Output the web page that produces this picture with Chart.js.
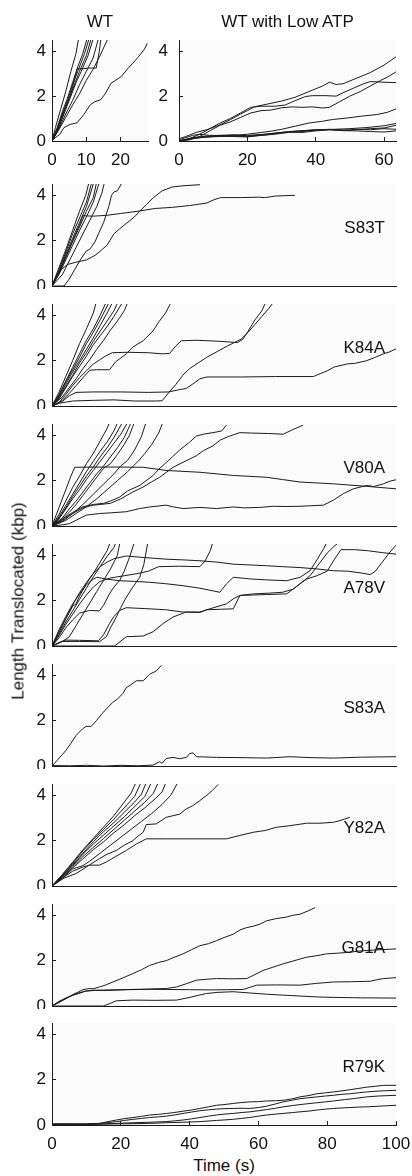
<!DOCTYPE html>
<html>
<head>
<meta charset="utf-8">
<script src="https://cdn.jsdelivr.net/npm/chart.js@4.4.1/dist/chart.umd.min.js"></script>
<style>
  html, body { margin: 0; padding: 0; background: #fff; }
  #fig { position: relative; width: 412px; height: 1176px; overflow: hidden;
         font-family: "Liberation Sans", Arial, Helvetica, sans-serif; color: #111; }
  #fig canvas { position: absolute; }
  .lbl { position: absolute; white-space: nowrap; line-height: 1; font-size: 17px; z-index: 5; }
</style>
</head>
<body>
<div id="fig"></div>
<script>
// ---- labels and ticks ----
const topTitles = ['WT', 'WT with Low ATP'];
const panelNames = ['S83T', 'K84A', 'V80A', 'A78V', 'S83A', 'Y82A', 'G81A', 'R79K'];
const yAxisTitle = 'Length Translocated (kbp)';
const xAxisTitle = 'Time (s)';
const yTickValues = [0, 2, 4];
const wtTickValues = [0, 10, 20];
const lowAtpTickValues = [0, 20, 40, 60];
const timeTickValues = [0, 20, 40, 60, 80, 100];

// ---- translocation traces: [time (s), length (kbp)] ----
const wtTraces = [
  [[0,0],[1,0.6],[2.5,1.4],[4,2.2],[5.5,3.1],[7,3.9],[7.8,4.6]],
  [[0,0],[1.5,0.6],[3,1.3],[4.5,1.9],[6,2.6],[7.5,3.3],[9,3.9],[10.3,4.6]],
  [[0,0],[1.5,0.5],[3,1.2],[4.5,1.8],[6,2.5],[7.5,3.1],[9.5,3.9],[10.9,4.6]],
  [[0,0],[2,0.7],[3.5,1.3],[5,1.9],[6.5,2.5],[8,3.1],[10,3.8],[11.5,4.6]],
  [[0,0],[2,0.6],[4,1.4],[5.5,2.0],[7,2.6],[8.5,3.1],[10.5,3.8],[12.1,4.6]],
  [[0,0],[1,0.3],[2.5,0.9],[4,1.5],[5.5,2.1],[7.4,3.22],[9,3.22],[11,3.25],[12.9,3.25],[13.8,4.0],[14.3,4.6]],
  [[0,0],[2,0.55],[4,1.2],[6,1.8],[8,2.5],[10,3.1],[12,3.7],[13.6,4.6]],
  [[0,0],[2,0.5],[4,1.05],[6,1.6],[8,2.1],[10,2.7],[12,3.2],[14,3.8],[16.4,4.6]],
  [[0,0],[1,0.15],[2.3,0.3],[3.5,0.6],[5.3,0.74],[7.3,0.81],[9.3,1.18],[11.2,1.62],[12.5,1.75],[14.2,1.84],[15.5,2.1],[17.2,2.57],[18.5,2.7],[20.2,2.87],[22.2,3.24],[23.5,3.45],[25.2,3.75],[27,4.1],[27.8,4.35]]
];
const lowAtpTraces = [
  [[0,0.1],[2,0.2],[5,0.38],[8,0.5],[10,0.6],[12,0.72],[15,0.95],[18,1.2],[20,1.35],[22,1.52],[26,1.65],[30,1.78],[34,1.95],[38,2.2],[42,2.45],[44,2.62],[46,2.52],[48,2.55],[52,2.8],[56,3.05],[60,3.38],[63.5,3.75]],
  [[0,0],[3,0.1],[6,0.3],[9,0.55],[12,0.8],[15,1.0],[18,1.25],[21,1.5],[24,1.55],[28,1.55],[31,1.6],[34,1.8],[37,1.98],[39,2.02],[43,2.02],[46,2.0],[48,2.15],[51,2.35],[54,2.55],[56,2.65],[60,2.62],[63.5,2.6]],
  [[0,0],[3,0.05],[6,0.2],[9,0.45],[12,0.7],[15,0.85],[18,1.05],[21,1.25],[24,1.35],[27,1.38],[30,1.48],[33,1.52],[36,1.5],[39,1.52],[42,1.47],[44,1.5],[47,1.75],[50,2.0],[53,2.2],[56,2.45],[59,2.7],[61,2.85],[63.5,3.08]],
  [[0,0],[4,0.1],[8,0.18],[12,0.22],[16,0.25],[20,0.3],[24,0.38],[27,0.44],[30,0.52],[34,0.66],[38,0.8],[42,0.88],[45,0.96],[49,1.02],[53,1.1],[58,1.18],[61,1.28],[63.5,1.43]],
  [[0,0],[5,0.15],[10,0.2],[15,0.22],[20,0.25],[25,0.3],[30,0.38],[35,0.45],[40,0.5],[45,0.52],[50,0.55],[55,0.6],[60,0.68],[63.5,0.78]],
  [[0,0],[4,0.12],[8,0.18],[12,0.2],[16,0.22],[20,0.2],[24,0.28],[28,0.35],[32,0.42],[36,0.45],[40,0.5],[44,0.52],[48,0.48],[52,0.52],[56,0.5],[60,0.55],[63.5,0.52]],
  [[0,0],[4,0.15],[8,0.22],[12,0.25],[16,0.28],[20,0.22],[24,0.25],[28,0.3],[32,0.38],[36,0.42],[40,0.48],[44,0.5],[48,0.46],[52,0.45],[56,0.42],[60,0.4],[63.5,0.45]],
  [[0,0.05],[2,0.15],[4,0.25],[6,0.3],[9,0.25],[12,0.25],[16,0.2],[20,0.18],[24,0.25],[28,0.32],[32,0.4],[36,0.38],[40,0.45],[44,0.5],[50,0.48],[56,0.55],[60,0.58],[63.5,0.7]]
];
const s83tTraces = [
  [[0,0],[2,0.8],[4,1.6],[6,2.45],[8,3.3],[9.8,4.0],[10.8,4.6]],
  [[0,0],[2,0.7],[4,1.5],[6,2.3],[8,3.0],[10,3.7],[11.6,4.6]],
  [[0,0],[2,0.6],[4,1.4],[6,2.1],[8,2.8],[10,3.5],[12.2,4.6]],
  [[0,0],[2,0.55],[4,1.25],[6,1.95],[8,2.6],[10,3.3],[12,3.9],[13,4.6]],
  [[0,0],[2,0.5],[4,1.15],[6,1.8],[8,2.45],[10,3.05],[12,3.7],[13.8,4.6]],
  [[0,0],[3,0.5],[5,1.1],[7,1.7],[9,2.3],[11,2.9],[13,3.5],[14.5,4.1],[15.3,4.6]],
  [[0,0],[2,0.6],[4,1.3],[6,2.0],[8,2.7],[9,3.1],[12,3.08],[16,3.12],[20,3.2],[25,3.3],[30,3.42],[35,3.47],[40,3.55],[45,3.66],[47,3.8],[49,3.9],[55,3.9],[60,3.92],[62,3.9],[65,3.97],[70.6,4.0]],
  [[0,0],[3.5,0],[5,0.3],[6.5,0.7],[8,1.1],[10,1.55],[11,1.62],[12.5,1.95],[13.5,2.3],[15,2.8],[16.5,3.5],[17.3,4.0],[18,4.15],[19,4.2],[20.5,4.6]],
  [[0,0],[1,0.3],[2.5,0.7],[4.5,0.95],[7,1.05],[10,1.15],[12.5,1.35],[14.5,1.6],[16,1.8],[18,2.3],[19.5,2.5],[21.5,2.75],[24,3.05],[25.5,3.3],[27.5,3.6],[29.5,3.9],[32,4.2],[35,4.37],[38,4.42],[43,4.47]]
];
const k84aTraces = [
  [[0,0],[2,0.6],[4,1.3],[6,2.0],[8,2.75],[10,3.4],[12,4.1],[12.9,4.6]],
  [[0,0],[2,0.5],[4,1.1],[6,1.7],[8,2.3],[10,2.9],[12,3.4],[14,4.0],[15.8,4.6]],
  [[0,0],[2,0.45],[4,1.05],[6,1.6],[8,2.15],[10,2.75],[12,3.25],[14,3.8],[16.7,4.6]],
  [[0,0],[2,0.4],[4,0.95],[6,1.5],[8,2.0],[10,2.5],[12,3.0],[14,3.55],[16,4.1],[17.7,4.6]],
  [[0,0],[2,0.35],[4,0.85],[6,1.35],[8,1.9],[10,2.35],[12,2.85],[14,3.3],[16,3.75],[18,4.2],[19.2,4.6]],
  [[0,0],[2,0.3],[4,0.8],[6,1.3],[8,1.75],[10,2.2],[12,2.7],[14,3.1],[16,3.5],[18,3.95],[20.6,4.6]],
  [[0,0],[3,0.4],[5,0.8],[7,1.2],[9,1.65],[11,2.05],[13,2.5],[15,2.9],[17,3.35],[19,3.75],[21,4.2],[22.1,4.6]],
  [[0,0],[3,0.25],[5,0.55],[7,0.9],[9,1.25],[11,1.58],[13,1.6],[16.7,1.6],[18.5,1.95],[21.6,2.3],[23.5,2.6],[26.5,2.88],[29.4,3.32],[31,3.7],[33,4.1],[34.7,4.6]],
  [[0,0],[2,0.15],[4,0.5],[6,0.9],[8,1.25],[10,1.55],[12,1.85],[14,2.05],[15.5,2.2],[17.5,2.35],[22,2.37],[28,2.35],[32,2.3],[34.2,2.32],[36,2.65],[37.6,2.88],[42,2.9],[48,2.86],[54,2.8],[55.5,2.95],[57,3.3],[59,3.8],[61,4.2],[62.2,4.6]],
  [[0,0],[2,0.12],[6,0.22],[12,0.25],[18,0.27],[24,0.22],[30,0.22],[32,0.23],[34,0.6],[36,0.95],[38,1.35],[40,1.65],[43,1.95],[45,2.15],[48,2.4],[51,2.65],[53,2.8],[55,2.95],[57,3.25],[59,3.6],[61,3.95],[63,4.3],[64.5,4.6]],
  [[0,0],[3,0.2],[5,0.45],[7,0.6],[12,0.62],[20,0.62],[28,0.6],[34,0.62],[37,0.72],[39,0.77],[41,0.98],[43,1.2],[45,1.28],[55,1.28],[65,1.3],[76,1.3],[78,1.43],[80,1.55],[82,1.72],[86,1.86],[88,1.88],[91.5,2.0],[94,2.15],[96.3,2.3],[98,2.38],[100,2.52]]
];
const v80aTraces = [
  [[0,0],[2,0.5],[4,1.1],[6,1.7],[8,2.2],[10,2.75],[12,3.2],[14,3.75],[16,4.3],[16.8,4.6]],
  [[0,0],[2,0.4],[4,0.9],[6,1.4],[8,1.9],[10,2.4],[12,2.85],[14,3.3],[16,3.7],[18,4.2],[19.2,4.6]],
  [[0,0],[2,0.35],[4,0.8],[6,1.3],[8,1.75],[10,2.2],[12,2.6],[14,3.05],[16,3.45],[18,3.9],[20.6,4.6]],
  [[0,0],[2,0.3],[4,0.75],[6,1.2],[8,1.6],[10,2.05],[12,2.45],[14,2.85],[16,3.25],[18,3.65],[20,4.05],[22.1,4.6]],
  [[0,0],[3,0.35],[5,0.75],[7,1.1],[9,1.5],[11,1.9],[13,2.3],[15,2.65],[17,3.05],[19,3.45],[21,3.9],[23.1,4.6]],
  [[0,0],[3,0.3],[5,0.6],[7,0.95],[9,1.35],[11,1.75],[13,2.15],[15,2.55],[17,2.75],[19,3.15],[21,3.6],[22.5,4.0],[24,4.6]],
  [[0,0],[3,0.2],[6,0.55],[9,0.95],[12,1.4],[15,1.85],[18,2.3],[20,2.65],[22,2.9],[24,3.35],[26,3.95],[27.4,4.6]],
  [[0,0],[4,0.25],[7,0.55],[10,0.85],[13,1.2],[16,1.6],[19,2.0],[22,2.4],[25,2.85],[27,3.2],[29,3.6],[31,4.1],[32.3,4.6]],
  [[0,0],[2,0.8],[4,1.6],[5.5,2.2],[6.6,2.59],[12,2.6],[20,2.6],[26.5,2.59],[33.2,2.45],[43,2.37],[52.7,2.23],[62.4,2.15],[67,2.05],[72.1,1.94],[81.8,1.86],[91.5,1.75],[100,1.64]],
  [[0,0],[3,0.25],[6,0.55],[9,0.8],[11.9,0.92],[14,0.95],[17,1.0],[20,1.2],[23.5,1.5],[26.5,1.72],[29,1.95],[31.3,2.15],[35.2,2.59],[39,2.88],[42,3.1],[44,3.32],[46.8,3.54],[49,3.8],[51.7,3.97],[54.6,4.12],[58,4.1],[63,4.08],[67.2,4.05],[70.1,4.26],[73,4.45]],
  [[0,0],[3,0.3],[6,0.6],[9,0.85],[12,0.95],[15,1.0],[17,1.1],[19.7,1.28],[22,1.55],[25.5,1.79],[29.4,2.23],[31,2.5],[33.2,2.8],[35,3.05],[37.1,3.35],[40,3.7],[42,3.97],[44,4.05],[46.8,4.12],[49.3,4.19],[50.7,4.45]],
  [[0,0],[3,0.05],[5,0.1],[7.1,0.26],[10,0.48],[13.8,0.55],[17,0.58],[21.6,0.63],[25.5,0.77],[28.4,0.84],[33.2,0.92],[35,0.85],[38.1,0.77],[43,0.82],[47.8,0.77],[52.7,0.84],[56,0.8],[60.4,0.82],[64.3,0.87],[68,0.86],[72.1,0.87],[78.9,0.92],[81.8,1.14],[84.7,1.43],[87.6,1.64],[91.5,1.79],[93.5,1.74],[96.3,1.86],[98.3,1.98],[100,2.04]]
];
const a78vTraces = [
  [[0,0],[2,0.6],[4,1.2],[6,1.75],[7,1.86],[8,2.2],[10,2.75],[12,3.2],[14,3.7],[16,4.2],[17,4.6]],
  [[0,0],[2,0.5],[4,1.05],[6,1.55],[8,2.05],[10,2.55],[12,3.05],[14,3.5],[16,3.95],[18,4.35],[18.7,4.6]],
  [[0,0],[3,0.2],[5,0.4],[7,0.9],[9,1.4],[11,1.9],[13,2.4],[15,2.9],[17,3.4],[19,4.0],[19.8,4.6]],
  [[0,0],[2,0.35],[4,0.8],[6,1.15],[8,1.45],[10.9,1.57],[13.8,1.55],[15,1.8],[16.7,2.3],[18,2.6],[19.7,2.9],[21,3.3],[22.5,3.9],[24,4.6]],
  [[0,0],[2,0.7],[4,1.3],[6,1.85],[8,2.3],[10,2.7],[12,2.95],[13,3.03],[16,2.95],[19.7,2.88],[24,2.85],[28.4,2.81],[33,2.75],[38.1,2.66],[43,2.55],[48.8,2.37],[50.7,2.74],[52.7,3.03],[55,3.0],[57.5,2.96],[62,2.92],[68.2,2.88],[72.1,3.03],[75,3.32],[77,3.8],[79,4.3],[80,4.6]],
  [[0,0],[2,0.6],[4,1.2],[6,1.8],[8,2.35],[10,2.8],[12,3.2],[14,3.5],[16,3.7],[18,3.85],[21.6,3.97],[27,3.9],[33.2,3.83],[38,3.8],[43,3.76],[48,3.7],[52.7,3.61],[57,3.58],[62.4,3.54],[67,3.5],[72.1,3.46],[77,3.4],[81.8,3.32],[86,3.3],[90,3.22],[92.5,3.15],[94,3.3],[96,3.7],[98,4.1],[100,4.45]],
  [[0,0],[3,0.2],[8,0.2],[13.8,0.19],[15.8,0.41],[17,0.8],[18.7,1.28],[20,1.7],[21.6,2.15],[23.5,2.6],[25.5,3.03],[26.7,3.6],[27.9,4.6]],
  [[0,0],[2,0.15],[4,0.26],[8,0.25],[13.5,0.23],[15,0.5],[16.7,0.99],[18,1.3],[19.7,1.57],[21.6,1.69],[27,1.65],[33,1.6],[38,1.5],[43,1.48],[45,1.6],[49,1.62],[52.7,1.64],[54.6,2.23],[58.5,2.3],[63,2.33],[67,2.37],[70,2.5],[72,2.74],[74,2.95],[77,3.1],[80,3.3],[82,3.8],[84,4.25],[88,4.25],[92,4.2],[96,4.12],[100,4.05]],
  [[0,0],[10,0],[18.2,0],[21.6,0.41],[26.5,0.44],[29.4,0.63],[32.3,0.99],[35.2,1.28],[39,1.5],[43,1.5],[45.9,1.64],[50.7,1.86],[52.7,2.08],[54.6,2.23],[62.4,2.27],[68.2,2.3],[70.2,2.52],[72.1,2.74],[75,3.1],[76,3.3],[78,3.7],[80,4.1],[82,4.4],[83.7,4.6]],
  [[0,0],[2,0.45],[4,0.95],[6,1.4],[8,1.85],[10,2.25],[12,2.6],[14,2.85],[17,3.0],[21,3.1],[25,3.2],[28,3.3],[31,3.5],[37,3.52],[43,3.5],[44.5,3.75],[46,4.2],[46.8,4.6]]
];
const s83aTraces = [
  [[0,0],[1.5,0.25],[3,0.5],[4.1,0.7],[5.5,1.0],[7,1.35],[8.9,1.64],[9.9,1.75],[11.4,1.75],[12.9,2.0],[14.5,2.3],[15.8,2.52],[17.7,2.81],[19,2.95],[20.6,3.2],[21.6,3.46],[22.6,3.55],[24.5,3.76],[26.5,3.76],[28.4,4.05],[30.3,4.19],[31.8,4.44]],
  [[0,0.02],[5,0.01],[10,0.03],[15,0.0],[20,0.03],[25,0.01],[29.4,0.04],[31.3,0.19],[32,0.12],[33.2,0.33],[35.2,0.38],[37.1,0.32],[39.1,0.38],[40,0.55],[41,0.58],[42,0.41],[47.8,0.38],[55,0.37],[62.4,0.35],[69.2,0.41],[75,0.37],[81.8,0.35],[90,0.39],[100,0.41]]
];
const y82aTraces = [
  [[0,0],[3,0.5],[6,1.05],[9,1.6],[12,2.1],[15,2.6],[18,3.1],[21,3.7],[23,4.1],[24.5,4.6]],
  [[0,0],[3,0.5],[6,1.0],[9,1.55],[12,2.05],[15,2.5],[18,2.95],[21,3.45],[24,3.95],[26,4.6]],
  [[0,0],[3,0.45],[6,0.95],[9,1.45],[12,1.95],[15,2.4],[18,2.8],[21,3.25],[24,3.7],[26,4.05],[27.5,4.6]],
  [[0,0],[3,0.45],[6,0.9],[9,1.4],[12,1.85],[15,2.25],[18,2.65],[21,3.05],[24,3.5],[27,3.95],[29,4.6]],
  [[0,0],[3,0.4],[6,0.85],[9,1.3],[12,1.7],[15,2.1],[18,2.5],[21,2.9],[24,3.3],[27,3.7],[29.5,4.1],[31,4.6]],
  [[0,0],[3,0.4],[6,0.8],[9,1.2],[12,1.6],[15,1.95],[18,2.35],[21,2.7],[24,3.1],[27,3.45],[30,3.85],[32,4.15],[33.2,4.6]],
  [[0,0],[3,0.35],[6,0.75],[9,0.9],[11,1.1],[14,1.45],[17,1.8],[20,2.15],[23,2.5],[26,2.85],[29,3.2],[32,3.6],[34.5,4.0],[36.7,4.6]],
  [[0,0],[3.5,0.35],[7,0.55],[10,0.84],[13.8,1.21],[16,1.4],[18.7,1.57],[21,1.8],[23.5,2.0],[25,2.2],[26.5,2.37],[27.4,2.71],[30.3,2.74],[33.2,3.03],[37.1,3.17],[39,3.4],[40.9,3.54],[42.9,3.76],[45,4.0],[46.5,4.2],[48.3,4.48]],
  [[0,0],[3,0.35],[6,0.65],[9,0.84],[10.9,0.92],[13.8,0.92],[15.8,1.06],[18.5,1.3],[21.6,1.57],[24.5,1.85],[27.4,2.08],[33.2,2.08],[43,2.08],[50.7,2.08],[54.6,2.23],[58.5,2.37],[62,2.45],[65.2,2.59],[69.1,2.66],[74,2.77],[77.9,2.77],[81.8,2.81],[84,2.9],[86.6,3.03]]
];
const g81aTraces = [
  [[0,0],[2,0.15],[4.1,0.33],[6,0.5],[7.8,0.63],[9,0.72],[10.9,0.77],[12,0.76],[13.8,0.84],[15.5,0.92],[17.7,1.06],[20,1.2],[23.5,1.43],[26,1.6],[28.4,1.79],[31,1.92],[33.2,2.0],[35.5,2.15],[38.1,2.3],[40.5,2.48],[43,2.66],[45.5,2.75],[47.8,2.88],[50,3.02],[52.7,3.17],[54.6,3.35],[56.6,3.46],[58.5,3.52],[60.4,3.61],[62.4,3.76],[65,3.85],[68,3.92],[70,4.0],[72.1,4.05],[74.5,4.2],[76.5,4.34]],
  [[0,0],[2,0.2],[4,0.35],[6,0.48],[7.8,0.55],[9.5,0.65],[11.9,0.7],[15,0.68],[18.7,0.7],[22,0.72],[26,0.73],[30,0.76],[33.2,0.77],[36.2,0.84],[39,0.98],[42,1.14],[45,1.18],[47.8,1.21],[52,1.2],[56.6,1.21],[58.5,1.35],[61.4,1.57],[64,1.7],[67.2,1.86],[70,1.98],[73.9,2.15],[77,2.22],[79.8,2.3],[83,2.33],[86.6,2.37],[89,2.42],[91.5,2.45],[95,2.48],[100,2.52]],
  [[0,0],[2,0.18],[4,0.33],[6,0.47],[7.8,0.58],[10,0.66],[13.8,0.7],[20,0.72],[26,0.74],[33.2,0.73],[40,0.72],[46,0.71],[51,0.72],[55.6,0.73],[57.5,0.82],[59.5,0.92],[65,0.93],[72.1,0.92],[77,1.0],[81.8,1.06],[87,1.07],[92.5,1.09],[94.5,1.16],[96.4,1.21],[100,1.25]],
  [[0,0],[10,0],[15,0],[17,0.12],[18.7,0.23],[23.5,0.26],[30,0.25],[36.2,0.26],[40.1,0.38],[42.5,0.47],[44.9,0.55],[48,0.6],[52.7,0.63],[57,0.58],[62.4,0.52],[67,0.48],[72.1,0.44],[77,0.4],[81.8,0.38],[90,0.36],[100,0.35]]
];
const r79kTraces = [
  [[0,0.05],[5,0.05],[10,0.04],[13.8,0.07],[16,0.14],[18.7,0.22],[21,0.28],[23.5,0.33],[26,0.38],[28.4,0.44],[31,0.47],[33.3,0.51],[35.5,0.55],[38.1,0.61],[40.5,0.66],[43,0.73],[45.5,0.8],[47.8,0.87],[50,0.9],[52.7,0.95],[55,0.99],[57.5,1.02],[60,1.03],[62.4,1.06],[65,1.07],[67.2,1.09],[70,1.16],[72.1,1.24],[75,1.31],[77,1.38],[79.5,1.42],[81.8,1.46],[84,1.5],[86.7,1.56],[89,1.61],[91.5,1.67],[94,1.71],[96.4,1.75],[100,1.75]],
  [[0,0.04],[5,0.03],[10,0.05],[13.8,0.07],[16,0.1],[18.7,0.15],[21,0.2],[23.5,0.25],[26,0.29],[28.4,0.33],[31,0.36],[33.2,0.39],[35.5,0.44],[38.1,0.51],[40.5,0.57],[43,0.63],[45.5,0.67],[47.8,0.7],[50,0.72],[52.7,0.73],[55,0.74],[57.5,0.73],[60,0.77],[62.4,0.83],[65,0.93],[67.2,1.02],[70,1.1],[72.1,1.16],[75,1.21],[77,1.24],[79.5,1.28],[81.8,1.31],[84,1.35],[86.7,1.38],[89,1.42],[91.5,1.46],[95,1.5],[100,1.53]],
  [[0,0.03],[5,0.04],[10,0.03],[15,0.05],[20,0.08],[23.5,0.1],[28,0.12],[33.2,0.15],[35.5,0.18],[38.1,0.22],[40.5,0.27],[43,0.33],[45.5,0.39],[47.8,0.44],[50,0.48],[52.7,0.51],[55,0.55],[57.5,0.58],[60,0.63],[62.4,0.68],[65,0.74],[67.2,0.8],[70,0.86],[72.1,0.9],[75,0.95],[77,0.98],[79.5,1.02],[81.8,1.06],[85,1.12],[88,1.17],[91.5,1.24],[95,1.28],[100,1.31]],
  [[0,0.02],[5,0.03],[10,0.02],[15,0.04],[20,0.05],[25,0.06],[30,0.08],[33.2,0.1],[38,0.12],[43,0.15],[47.8,0.2],[52.7,0.25],[55,0.29],[57.5,0.33],[60,0.39],[62.4,0.44],[65,0.48],[67.2,0.51],[70,0.55],[72.1,0.58],[75,0.62],[77,0.66],[79.5,0.7],[81.8,0.73],[84,0.75],[86.6,0.77],[89,0.79],[91.5,0.8],[95,0.83],[100,0.87]]
];
const mutantTraces = [s83tTraces, k84aTraces, v80aTraces, a78vTraces, s83aTraces, y82aTraces, g81aTraces, r79kTraces];

// ---- page layout ----
const FONT = '"Liberation Sans", Arial, Helvetica, sans-serif';
const INK = '#1c1c1c';
const TICK_SIZE = 17;
const fig = document.getElementById('fig');
const panelBottoms = [286, 406, 526, 646, 766, 886, 1006, 1125];
const PLOT_H = 102;

const plotBg = {
  id: 'plotBg',
  beforeDraw(chart) {
    const { ctx, chartArea: a } = chart;
    ctx.save();
    ctx.fillStyle = '#fbfbfb';
    ctx.fillRect(a.left, a.top, a.right - a.left, a.bottom - a.top);
    ctx.restore();
  }
};

function makePanel(p) {
  const c = document.createElement('canvas');
  c.width = p.w; c.height = p.h;
  c.style.left = p.left + 'px'; c.style.top = p.top + 'px';
  c.style.width = p.w + 'px'; c.style.height = p.h + 'px';
  fig.appendChild(c);
  return new Chart(c, {
    type: 'line',
    data: {
      datasets: p.traces.map(tr => ({
        data: tr.map(([x, y]) => ({ x, y })),
        borderColor: INK, borderWidth: 1, pointRadius: 0, tension: 0, fill: false
      }))
    },
    options: {
      responsive: false, animation: false, events: [], devicePixelRatio: 1,
      layout: { padding: { top: p.padTop, right: p.padRight, left: 0, bottom: 0 } },
      plugins: { legend: { display: false }, tooltip: { enabled: false } },
      scales: {
        x: {
          type: 'linear', min: 0, max: p.xMax, position: 'bottom',
          afterFit: a => { a.height = p.xAxisH; a.paddingLeft = 0; a.paddingRight = 0; },
          afterBuildTicks: a => { a.ticks = p.xTicks.map(v => ({ value: v })); },
          ticks: { display: p.showX, font: { family: FONT, size: TICK_SIZE }, color: '#111',
                   padding: 13, maxRotation: 0, autoSkip: false },
          grid: { display: p.showX, drawOnChartArea: false, tickLength: -4, color: INK, lineWidth: 1 },
          border: { display: true, color: INK, width: 1 }
        },
        y: {
          type: 'linear', min: 0, max: 4.5,
          afterFit: a => { a.width = p.yAxisW; a.paddingTop = 0; a.paddingBottom = 0; },
          afterBuildTicks: a => { a.ticks = yTickValues.map(v => ({ value: v })); },
          ticks: { font: { family: FONT, size: TICK_SIZE }, color: '#111', padding: p.yPad },
          grid: { drawOnChartArea: false, tickLength: -4, color: INK, lineWidth: 1 },
          border: { display: true, color: INK, width: 1 }
        }
      }
    },
    plugins: [plotBg]
  });
}

function addText(text, x, y, opts = {}) {
  const d = document.createElement('div');
  d.className = 'lbl';
  d.textContent = text;
  d.style.left = x + 'px';
  d.style.top = y + 'px';
  d.style.transform = opts.transform || 'translate(-50%, -50%)';
  if (opts.size) d.style.fontSize = opts.size + 'px';
  fig.appendChild(d);
  return d;
}

// top row: WT and WT with low ATP
makePanel({ left: 0, top: 30, w: 160, h: 141, padTop: 10, padRight: 12, yAxisW: 52, yPad: 10,
            xAxisH: 30, xMax: 28, xTicks: wtTickValues, showX: true, traces: wtTraces });
makePanel({ left: 130, top: 30, w: 282, h: 141, padTop: 10, padRight: 16, yAxisW: 49, yPad: 15,
            xAxisH: 30, xMax: 63.5, xTicks: lowAtpTickValues, showX: true, traces: lowAtpTraces });
addText(topTitles[0], 100, 20.5);
addText(topTitles[1], 287.5, 20.5);

// stacked mutant panels sharing a 0-100 s time axis
panelBottoms.forEach((b, i) => {
  const last = i === panelBottoms.length - 1;
  const xAxisH = last ? 30 : 3;
  makePanel({ left: 0, top: b - PLOT_H - 6, w: 412, h: 6 + PLOT_H + xAxisH, padTop: 6, padRight: 16,
              yAxisW: 52, yPad: 10, xAxisH, xMax: 100, xTicks: timeTickValues, showX: last,
              traces: mutantTraces[i] });
  addText(panelNames[i], 385, b - 59.5, { transform: 'translate(-100%, -50%)' });
});

addText(xAxisTitle, 224, 1165);
addText(yAxisTitle, 18, 600.5, { transform: 'translate(-50%, -50%) rotate(-90deg)' });
</script>
</body>
</html>
